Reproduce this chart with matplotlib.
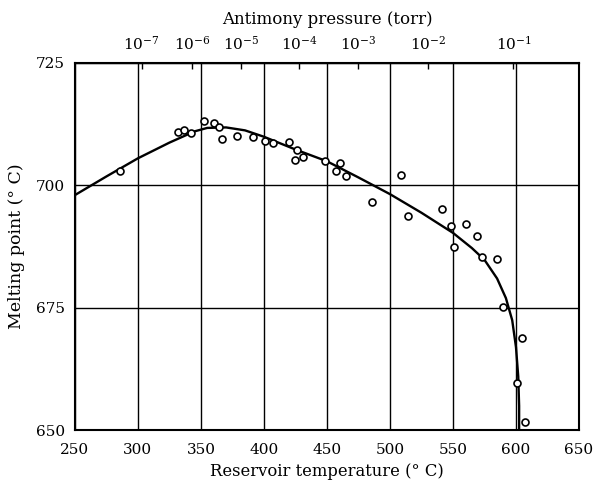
import matplotlib
matplotlib.use("Agg")
import matplotlib.pyplot as plt

plt.rcParams['font.family'] = ['DejaVu Serif']
plt.rcParams['mathtext.fontset'] = 'dejavuserif'

# Measured data points (reservoir temperature, melting point)
temp_pts = [285.7, 332.0, 336.8, 341.8, 352.6, 360.4, 364.5, 366.4, 378.3, 391.0,
            400.8, 406.9, 419.6, 426.0, 424.8, 430.7, 448.4, 460.1, 457.1, 465.1,
            486.0, 508.7, 514.5, 541.3, 548.2, 550.8, 560.6, 569.3, 573.3, 585.2,
            589.9, 604.5, 600.5, 607.0]
melt_pts = [703.0, 710.9, 711.3, 710.7, 713.1, 712.8, 711.8, 709.4, 710.1, 709.8,
            709.1, 708.6, 708.8, 707.2, 705.1, 705.8, 704.9, 704.5, 703.0, 701.9,
            696.6, 702.2, 693.7, 695.1, 691.8, 687.5, 692.1, 689.7, 685.3, 684.9,
            675.1, 668.9, 659.6, 651.8]

# Fitted curve
curve_t = [250, 275, 300, 325, 345, 355, 370, 385, 400, 425, 450, 475, 500, 525,
           550, 565, 575, 585, 592, 597, 600.0, 601.8, 602.5, 602.5]
curve_m = [698.0, 701.8, 705.5, 708.7, 711.0, 711.7, 711.8, 711.2, 709.9, 707.3,
           704.9, 701.6, 698.2, 694.4, 690.3, 687.2, 684.8, 681.0, 677.0, 672.5,
           667.0, 661.0, 655.0, 650.0]

x_ticks = [250, 300, 350, 400, 450, 500, 550, 600, 650]
y_ticks = [650, 675, 700, 725]
pressure_pos = [303, 343, 382, 428, 475, 530, 598]
pressure_labels = [r'$10^{-7}$', r'$10^{-6}$', r'$10^{-5}$', r'$10^{-4}$',
                   r'$10^{-3}$', r'$10^{-2}$', r'$10^{-1}$']

fig = plt.figure(figsize=(5.99, 4.86), dpi=100)
ax = fig.add_axes([0.125, 0.1142, 0.8416, 0.7568])

ax.plot(curve_t, curve_m, color='black', lw=1.7, zorder=3)
ax.plot(temp_pts, melt_pts, linestyle='none', marker='o', markersize=5,
        markerfacecolor='white', markeredgecolor='black', markeredgewidth=1.2, zorder=4)

ax.set_xlim(250, 650)
ax.set_ylim(650, 725)
ax.set_xticks(x_ticks)
ax.set_yticks(y_ticks)
ax.grid(True, color='black', lw=1.0)
ax.tick_params(axis='both', length=0, labelsize=11)
ax.tick_params(axis='x', pad=9)
ax.tick_params(axis='y', pad=7)
for s in ax.spines.values():
    s.set_linewidth(1.5)

ax.set_xlabel('Reservoir temperature (° C)', fontsize=11.8, labelpad=4)
ax.set_ylabel('Melting point (° C)', fontsize=12.5, labelpad=8)

top = ax.secondary_xaxis('top')
top.set_xticks(pressure_pos)
top.set_xticklabels(pressure_labels)
top.tick_params(direction='in', length=4, width=1, labelsize=11, pad=7)
top.set_xlabel('Antimony pressure (torr)', fontsize=12, labelpad=8)

fig.savefig('out.png', dpi=100)
